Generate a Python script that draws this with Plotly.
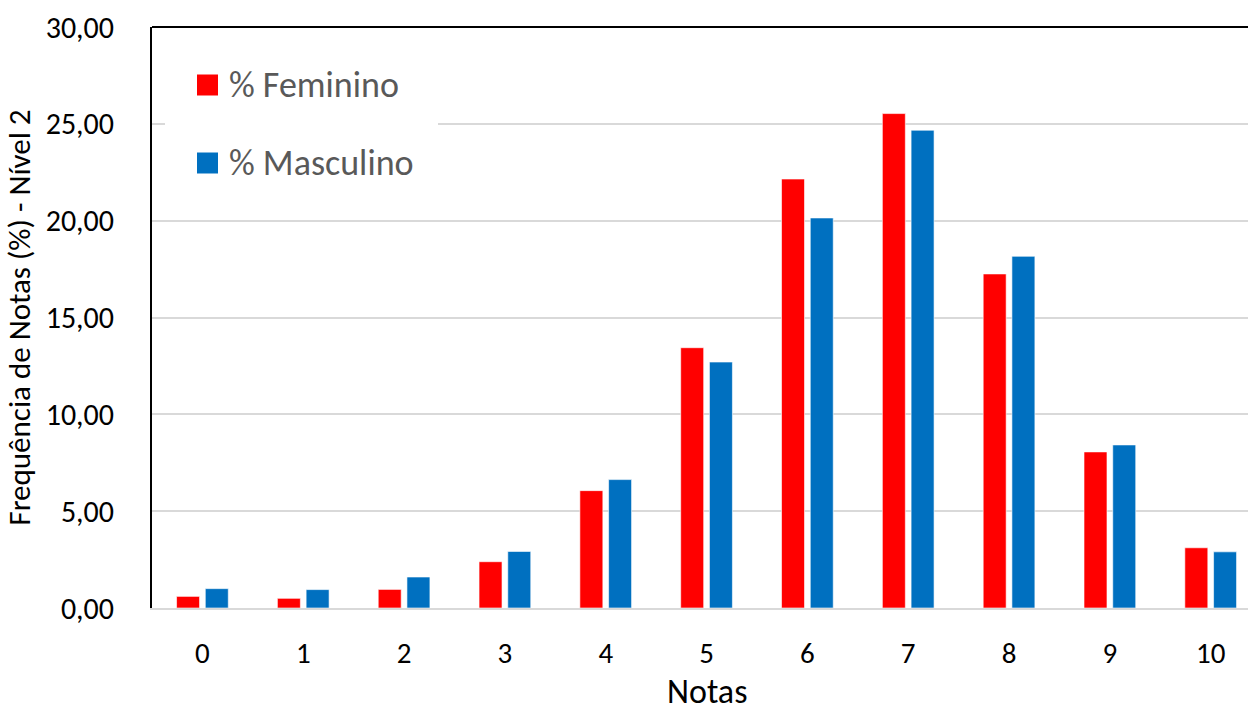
import plotly.graph_objects as go

notas = [0, 1, 2, 3, 4, 5, 6, 7, 8, 9, 10]
feminino = [0.60, 0.50, 0.96, 2.39, 6.06, 13.44, 22.15, 25.53, 17.25, 8.06, 3.11]
masculino = [1.00, 0.95, 1.60, 2.92, 6.63, 12.70, 20.14, 24.67, 18.16, 8.42, 2.90]
series_names = ["% Feminino", "% Masculino"]
colors = ["#FF0000", "#0070C0"]
y_ticks = [0, 5, 10, 15, 20, 25, 30]
x_title = "Notas"
y_title = "Frequência de Notas (%) - Nível 2"

FONT = "Calibri, Carlito, Lato, sans-serif"

fig = go.Figure()
for name, vals, col in zip(series_names, [feminino, masculino], colors):
    fig.add_trace(go.Bar(
        x=notas, y=vals, name=name, marker_color=col,
        marker_line=dict(color="rgba(255,255,255,0.6)", width=1),
        showlegend=False,
    ))

fig.update_layout(
    width=1248, height=714,
    margin=dict(l=152, r=0, t=27, b=106),
    paper_bgcolor="white", plot_bgcolor="white",
    barmode="group", bargap=0.43, bargroupgap=0.2,
    separators=",.",
    font=dict(family=FONT, color="black"),
    xaxis=dict(
        range=[-0.5, 10.37], tickmode="array", tickvals=notas,
        ticktext=[str(n) for n in notas],
        showline=True, linecolor="#D9D9D9", linewidth=2,
        showgrid=False, zeroline=False, ticks="",
        tickfont=dict(size=29, family=FONT), ticklabelstandoff=18,
    ),
    yaxis=dict(
        range=[0, 30], tickmode="array", tickvals=y_ticks, tickformat=".2f",
        showline=True, linecolor="black", linewidth=2,
        showgrid=True, gridcolor="#D9D9D9", gridwidth=2, zeroline=False,
        ticks="", tickfont=dict(size=30, family=FONT), ticklabelstandoff=30,
        title=dict(text=y_title, font=dict(size=31, family=FONT), standoff=14),
    ),
)

# x-axis title placed as annotation, centred under the middle category
fig.add_annotation(xref="x", yref="paper", x=notas[len(notas) // 2],
                   y=(608 - 714) / 581, text=x_title, showarrow=False,
                   xanchor="center", yanchor="bottom",
                   font=dict(size=34, family=FONT, color="black"))

# top frame line
fig.add_shape(type="line", xref="x domain", yref="y domain",
              x0=0, x1=1, y0=1, y1=1, line=dict(color="black", width=2))

# manual legend (white box covering gridline, colored squares, gray text)
fig.add_shape(type="rect", xref="paper", yref="paper",
              x0=13/1096, x1=286/1096, y0=(608-190)/581, y1=(608-50)/581,
              fillcolor="white", line=dict(width=0), layer="above")
leg_y = [85, 163]
for name, col, yy in zip(series_names, colors, leg_y):
    fig.add_shape(type="rect", xref="paper", yref="paper",
                  x0=(197-152)/1096, x1=(218-152)/1096,
                  y0=(608-yy-10.5)/581, y1=(608-yy+10.5)/581,
                  fillcolor=col, line=dict(width=0), layer="above")
    fig.add_annotation(xref="paper", yref="paper", x=(227-152)/1096,
                       y=(608-yy)/581, text=name, showarrow=False,
                       xanchor="left", yanchor="middle",
                       font=dict(size=36, color="#595959", family=FONT))

fig.write_html(
    "out.html",
    config={"displayModeBar": False},
    post_script="document.body.style.margin='0';document.body.style.overflow='hidden';",
)
